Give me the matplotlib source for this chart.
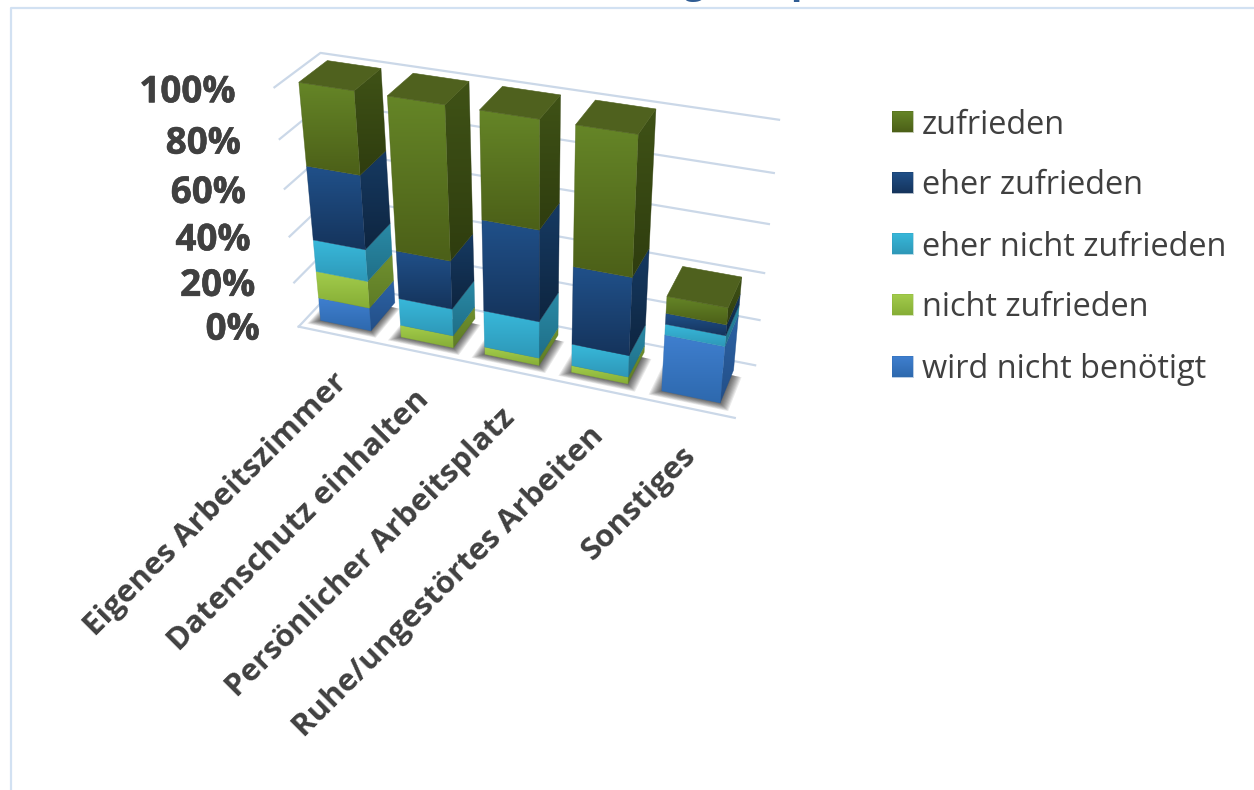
import numpy as np
import matplotlib
matplotlib.use('Agg')
import matplotlib.pyplot as plt
import matplotlib.patheffects as pe
from matplotlib.colors import to_rgb
from matplotlib.patches import Polygon

plt.rcParams['font.family'] = ['Open Sans', 'DejaVu Sans']

categories = ['Eigenes Arbeitszimmer', 'Datenschutz einhalten', 'Persönlicher Arbeitsplatz',
              'Ruhe/ungestörtes Arbeiten', 'Sonstiges']
series_names = ['wird nicht benötigt', 'nicht zufrieden', 'eher nicht zufrieden', 'eher zufrieden', 'zufrieden']
wird_nicht_benoetigt = [10.3, 0, 0, 0, 24.2]
nicht_zufrieden = [11.9, 5.4, 3.3, 3, 0]
eher_nicht_zufrieden = [13.8, 11.9, 16, 9.4, 4.5]
eher_zufrieden = [31, 20.7, 38.2, 32.8, 4.5]
zufrieden = [33, 62, 42.5, 54.8, 7]
y_ticks = [0, 20, 40, 60, 80, 100]
series = [wird_nicht_benoetigt, nicht_zufrieden, eher_nicht_zufrieden, eher_zufrieden, zufrieden]

# front top, front bottom, side top, side bottom
colors = [('#3F7FCF', '#2E69AE', '#2C62A4', '#234F88'),
          ('#A3CC4C', '#86AE36', '#70902F', '#5E7C26'),
          ('#38B8DA', '#2E98B8', '#2A8AA6', '#1F6F88'),
          ('#205089', '#15345C', '#163A62', '#0E2540'),
          ('#658527', '#4C6018', '#3F5216', '#2F3D0F')]
top_color = '#4F611E'
text_color = '#404040'
grid_color = '#CBD8E8'
frame_color = '#D2E1F2'

# camera: solve a 3x4 projection from the corners of the plot box (cat, depth, percent) -> pixels
box_3d = [(0, 0, 0), (5, 0, 0), (5, 1, 0), (0, 1, 0), (0, 0, 100), (0, 1, 100), (5, 1, 100)]
box_px = [(298, 325), (735, 419), (755, 364), (340, 285), (275, 88), (320, 52), (779, 120)]
rows = []
rhs = []
for (a, b, c), (px, py) in zip(box_3d, box_px):
    rows.append([a, b, c, 1, 0, 0, 0, 0, -px * a, -px * b, -px * c])
    rows.append([0, 0, 0, 0, a, b, c, 1, -py * a, -py * b, -py * c])
    rhs += [px, py]
P = np.append(np.linalg.lstsq(np.array(rows, float), np.array(rhs, float), rcond=None)[0], 1).reshape(3, 4)


def proj(a, b, c):
    h = P @ np.array([a, b, c, 1.0])
    return h[0] / h[2], h[1] / h[2]


def grad_poly(ax, pts, c_top, c_bottom, zorder):
    pts = np.array(pts)
    poly = Polygon(pts, closed=True, fc='none', ec='none', transform=ax.transData)
    ax.add_patch(poly)
    t = np.linspace(0, 1, 32)[:, None, None]
    img = (1 - t) * np.array(to_rgb(c_top)) + t * np.array(to_rgb(c_bottom))
    im = ax.imshow(img, extent=(pts[:, 0].min(), pts[:, 0].max(), pts[:, 1].max(), pts[:, 1].min()),
                   aspect='auto', interpolation='bilinear', zorder=zorder)
    im.set_clip_path(poly)
    # thin edge hides the jagged clip
    ax.add_patch(Polygon(pts, closed=True, fc='none', ec=c_bottom, lw=0.4, alpha=0.6, zorder=zorder))


fig = plt.figure(figsize=(12.54, 7.9), dpi=100)
ax = fig.add_axes([0, 0, 1, 1])
ax.set_axis_off()
ax.set_autoscale_on(False)
ax.set_xlim(0, 1254)
ax.set_ylim(790, 0)

heavy = [pe.withStroke(linewidth=0.4, foreground=text_color)]

# chart frame and the cut off title
ax.plot([1254, 11, 11], [8, 8, 790], color=frame_color, lw=1.6, zorder=1)
ax.text(694, -7, 'g', color='#2F5C94', fontsize=27, fontweight='bold', ha='center', va='baseline')
ax.text(802, -7, 'p', color='#2F5C94', fontsize=27, fontweight='bold', ha='center', va='baseline')

# walls and floor
for tick in y_ticks:
    p0, p1, p2 = proj(0, 0, tick), proj(0, 1, tick), proj(5, 1, tick)
    ax.plot([p0[0], p1[0], p2[0]], [p0[1], p1[1], p2[1]], color=grid_color, lw=1.6, zorder=2)
    ax.text(p0[0] - 39, p0[1] + 3 + 0.02 * (100 - tick) * -1 + 2, f'{tick}%', ha='right', va='center',
            fontsize=26.5, fontweight='bold', color=text_color, path_effects=heavy)
f0, f1 = proj(0, 0, 0), proj(5, 0, 0)
ax.plot([f0[0], f1[0]], [f0[1], f1[1]], color=grid_color, lw=1.6, zorder=2)

u_gap0, u_gap1 = 0.17, 0.20
d_gap0, d_gap1 = 0.20, 0.17
for i in range(len(categories)):
    u0, u1 = i + u_gap0, i + 1 - u_gap1
    v0, v1 = d_gap0, 1 - d_gap1
    # soft shadow on the floor
    for m in np.linspace(0.11, 0.0, 10):
        pts = [proj(u0 - m, v0 - m * 1.0, 0), proj(u1 + m * 1.0, v0 - m * 1.0, 0),
               proj(u1 + m * 1.0, v1 - 0.1, 0), proj(u0 - m, v1 - 0.1, 0)]
        ax.add_patch(Polygon(pts, closed=True, fc='black', ec='none', alpha=0.085, zorder=3))
    base = 0
    for s, values in enumerate(series):
        val = values[i]
        if val <= 0:
            continue
        top = base + val
        c_ft, c_fb, c_st, c_sb = colors[s]
        zo = 4 + i * 0.1 + s * 0.01
        grad_poly(ax, [proj(u1, v0, top), proj(u1, v1, top), proj(u1, v1, base), proj(u1, v0, base)],
                  c_st, c_sb, zo)
        grad_poly(ax, [proj(u0, v0, top), proj(u1, v0, top), proj(u1, v0, base), proj(u0, v0, base)],
                  c_ft, c_fb, zo + 0.001)
        base = top
    ax.add_patch(Polygon([proj(u0, v0, base), proj(u1, v0, base), proj(u1, v1, base), proj(u0, v1, base)],
                         closed=True, fc=top_color, ec=top_color, lw=0.4, zorder=4.9 + i * 0.01))
    # category label, right end anchored under the bar
    lx, ly = proj(i + 0.5, 0, 0)
    ax.text(lx + 4, ly + 43, categories[i], rotation=45, rotation_mode='anchor', ha='right', va='center',
            fontsize=22.5, fontweight='bold', color=text_color)

# legend
leg_y = [367, 305, 244, 183, 122]
for s, name in enumerate(series_names):
    y = leg_y[s]
    x0, x1 = 892, 913
    grad_poly(ax, [(x0, y - 11), (x1, y - 11), (x1, y + 10), (x0, y + 10)], colors[s][0], colors[s][1], 4)
    ax.text(922, y + 3, name, ha='left', va='center', fontsize=23.4, color=text_color)

fig.savefig('out.png', dpi=100)
